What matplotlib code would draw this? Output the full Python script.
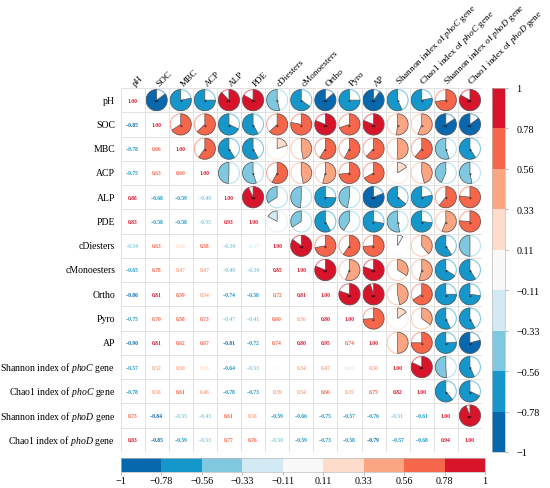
import numpy as np
import matplotlib
matplotlib.use("Agg")
import matplotlib.pyplot as plt
from matplotlib.patches import Wedge, Circle
from matplotlib.colors import ListedColormap, BoundaryNorm, to_rgb

plt.rcParams['font.family'] = 'Liberation Serif'
plt.rcParams['mathtext.fontset'] = 'custom'
plt.rcParams['mathtext.rm'] = 'Liberation Serif'
plt.rcParams['mathtext.it'] = 'Liberation Serif:italic'

# variable names
names = ['pH', 'SOC', 'MBC', 'ACP', 'ALP', 'PDE', 'cDiesters', 'cMonoesters',
         'Ortho', 'Pyro', 'AP',
         'Shannon index of $\\mathit{phoC}$ gene',
         'Chao1 index of $\\mathit{phoC}$ gene',
         'Shannon index of $\\mathit{phoD}$ gene',
         'Chao1 index of $\\mathit{phoD}$ gene']

# lower triangle of the correlation matrix, row by row
r_pH = [1.00]
r_SOC = [-0.85, 1.00]
r_MBC = [-0.78, 0.66, 1.00]
r_ACP = [-0.75, 0.63, 0.60, 1.00]
r_ALP = [0.88, -0.68, -0.59, -0.49, 1.00]
r_PDE = [0.83, -0.58, -0.58, -0.55, 0.93, 1.00]
r_cDi = [-0.54, 0.63, 0.20, 0.58, -0.34, -0.17, 1.00]
r_cMo = [-0.65, 0.78, 0.47, 0.47, -0.49, -0.34, 0.85, 1.00]
r_Ortho = [-0.86, 0.81, 0.59, 0.54, -0.74, -0.58, 0.72, 0.81, 1.00]
r_Pyro = [-0.75, 0.70, 0.58, 0.73, -0.47, -0.41, 0.60, 0.56, 0.80, 1.00]
r_AP = [-0.90, 0.81, 0.62, 0.67, -0.81, -0.72, 0.74, 0.80, 0.95, 0.74, 1.00]
r_ShC = [-0.57, 0.52, 0.50, 0.16, -0.64, -0.53, 0.08, 0.34, 0.47, 0.15, 0.50, 1.00]
r_ChC = [-0.78, 0.56, 0.61, 0.46, -0.78, -0.73, 0.39, 0.54, 0.66, 0.35, 0.75, 0.82, 1.00]
r_ShD = [0.73, -0.84, -0.55, -0.43, 0.61, 0.56, -0.59, -0.66, -0.75, -0.57, -0.76, -0.51, -0.61, 1.00]
r_ChD = [0.83, -0.85, -0.59, -0.53, 0.77, 0.76, -0.50, -0.59, -0.73, -0.58, -0.79, -0.57, -0.68, 0.94, 1.00]

rows = [r_pH, r_SOC, r_MBC, r_ACP, r_ALP, r_PDE, r_cDi, r_cMo, r_Ortho,
        r_Pyro, r_AP, r_ShC, r_ChC, r_ShD, r_ChD]

# colour bins
edges = [-1, -0.78, -0.56, -0.33, -0.11, 0.11, 0.33, 0.56, 0.78, 1]
edge_labels = ['\u22121', '\u22120.78', '\u22120.56', '\u22120.33', '\u22120.11',
               '0.11', '0.33', '0.56', '0.78', '1']
bin_colors = ['#0868AE', '#1597CB', '#80C8DF', '#D3EAF4', '#F8F8F8',
              '#FEDCCB', '#FCA582', '#F5664A', '#D7142A']

n = len(names)
corr = np.zeros((n, n))
for i, row in enumerate(rows):
    for j, v in enumerate(row):
        corr[i, j] = v
        corr[j, i] = v


def color_of(v):
    a = abs(v)
    if a <= 0.11:
        return bin_colors[4]
    elif a <= 0.33:
        k = 1
    elif a <= 0.56:
        k = 2
    elif a <= 0.78:
        k = 3
    else:
        k = 4
    return bin_colors[4 + k] if v > 0 else bin_colors[4 - k]


def lighter(c, f=0.5):
    rgb = np.array(to_rgb(c))
    return tuple(rgb + (1 - rgb) * f)


fig = plt.figure(figsize=(5.5, 4.89), dpi=100)
ax = fig.add_axes([120.5 / 550, 1 - 453 / 489, 361.5 / 550, 364 / 489])
ax.set_xlim(-0.5, n - 0.5)
ax.set_ylim(-0.5, n - 0.5)
ax.axis('off')

# grid
ax.hlines(np.arange(n + 1) - 0.5, -0.5, n - 0.5, color='#DDDDDD', lw=0.6)
ax.vlines(np.arange(n + 1) - 0.5, -0.5, n - 0.5, color='#DDDDDD', lw=0.6)

rad = 0.435
for i in range(n):
    y = n - 1 - i
    for j in range(n):
        v = corr[i, j]
        c = color_of(v)
        if j <= i:
            txt = f"{v:.2f}".replace('-', '\u2212')
            ax.text(j, y, txt, ha='center', va='center', fontsize=4,
                    fontweight='bold', color=c)
        else:
            ax.add_patch(Circle((j, y), rad, facecolor='white',
                                edgecolor=lighter(c, 0.45), lw=0.8))
            if v > 0:
                t1, t2 = 90 - 360 * v, 90
            else:
                t1, t2 = 90, 90 - 360 * v
            ax.add_patch(Wedge((j, y), rad, t1, t2, facecolor=c,
                               edgecolor='#555555', lw=0.5))
            a = abs(v)
            star = '**' if a >= 0.8 else ('*' if a >= 0.52 else '')
            if star:
                ax.text(j, y - 0.06, star, ha='center', va='center',
                        fontsize=4, color='black')

# row labels
for i, nm in enumerate(names):
    ax.text(-0.72, n - 1 - i, nm, ha='right', va='center', fontsize=7)

# column labels
for j, nm in enumerate(names):
    ax.text(j + 0.18, n - 0.47, nm, ha='left', va='bottom', fontsize=6.7,
            rotation=45, rotation_mode='anchor')

cmap = ListedColormap(bin_colors)
norm = BoundaryNorm(edges, cmap.N)
sm = plt.cm.ScalarMappable(norm=norm, cmap=cmap)

# vertical colour bar
cax = fig.add_axes([491.7 / 550, 1 - 453 / 489, 13.5 / 550, 364 / 489])
cb = fig.colorbar(sm, cax=cax, ticks=edges)
cb.ax.set_yticklabels(edge_labels)
cb.ax.tick_params(labelsize=7.3, length=2, width=0.5, color='#999999', pad=6)
cb.outline.set_edgecolor('#BBBBBB')
cb.outline.set_linewidth(0.5)

# horizontal colour bar
hax = fig.add_axes([120.7 / 550, 1 - 473 / 489, 364.3 / 550, 14 / 489])
cb2 = fig.colorbar(sm, cax=hax, ticks=edges, orientation='horizontal')
cb2.ax.set_xticklabels(edge_labels)
cb2.ax.tick_params(labelsize=7.3, length=2, width=0.5, color='#999999', pad=1)
cb2.outline.set_edgecolor('#BBBBBB')
cb2.outline.set_linewidth(0.5)

fig.savefig('out.png', dpi=100)
